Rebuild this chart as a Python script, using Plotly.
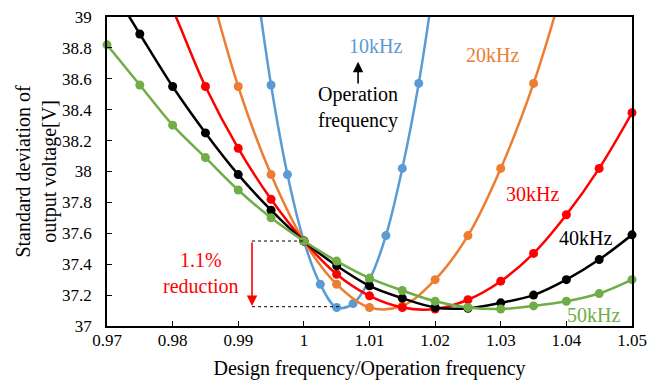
import plotly.graph_objects as go

# ---------------- data ----------------
x_10k = [0.9925, 0.995, 0.9975, 1.0, 1.0025, 1.005, 1.0075, 1.01, 1.0125, 1.015, 1.0175, 1.02]
y_10k = [39.30, 38.56, 37.98, 37.55, 37.27, 37.12, 37.145, 37.30, 37.585, 38.02, 38.57, 39.27]

x_20k = [0.985, 0.99, 0.995, 1.0, 1.005, 1.01, 1.015, 1.02, 1.025, 1.03, 1.035, 1.04]
y_20k = [39.30, 38.55, 37.98, 37.55, 37.27, 37.12, 37.13, 37.30, 37.585, 38.02, 38.57, 39.27]

x_30k = [0.975, 0.98, 0.985, 0.99, 0.995, 1.0, 1.005, 1.01, 1.015, 1.02, 1.025, 1.03, 1.035, 1.04, 1.045, 1.05]
y_30k = [39.50, 39.05, 38.55, 38.15, 37.82, 37.55, 37.335, 37.195, 37.12, 37.11, 37.17, 37.29, 37.47, 37.72, 38.02, 38.38]

x_40k = [0.97, 0.975, 0.98, 0.985, 0.99, 0.995, 1.0, 1.005, 1.01, 1.015, 1.02, 1.025, 1.03, 1.035, 1.04, 1.045, 1.05]
y_40k = [39.24, 38.89, 38.55, 38.25, 37.98, 37.75, 37.55, 37.39, 37.26, 37.18, 37.12, 37.115, 37.15, 37.20, 37.30, 37.43, 37.59]

x_50k = [0.97, 0.975, 0.98, 0.985, 0.99, 0.995, 1.0, 1.005, 1.01, 1.015, 1.02, 1.025, 1.03, 1.035, 1.04, 1.045, 1.05]
y_50k = [38.82, 38.56, 38.30, 38.09, 37.88, 37.70, 37.55, 37.42, 37.31, 37.23, 37.16, 37.12, 37.11, 37.13, 37.16, 37.21, 37.30]

series_names = ["10kHz", "20kHz", "30kHz", "40kHz", "50kHz"]
series_colors = ["#5B9BD5", "#ED7D31", "#FF0000", "#000000", "#70AD47"]

x_tickvals = [0.97, 0.98, 0.99, 1.0, 1.01, 1.02, 1.03, 1.04, 1.05]
x_ticktext = ["0.97", "0.98", "0.99", "1", "1.01", "1.02", "1.03", "1.04", "1.05"]
y_tickvals = [37, 37.2, 37.4, 37.6, 37.8, 38, 38.2, 38.4, 38.6, 38.8, 39]
y_ticktext = ["37", "37.2", "37.4", "37.6", "37.8", "38", "38.2", "38.4", "38.6", "38.8", "39"]

Y_MIN, Y_MAX = 37, 39
FONT = "Liberation Serif"

fig = go.Figure()
all_x = [x_10k, x_20k, x_30k, x_40k, x_50k]
all_y = [y_10k, y_20k, y_30k, y_40k, y_50k]
for name, col, xs, ys in zip(series_names, series_colors, all_x, all_y):
    fig.add_trace(go.Scatter(x=xs, y=ys, mode="lines", name=name,
                             line=dict(color=col, width=2.5, shape="spline", smoothing=1),
                             showlegend=False, hoverinfo="skip"))
    mx = [a for a, b in zip(xs, ys) if Y_MIN <= b <= Y_MAX]
    my = [b for b in ys if Y_MIN <= b <= Y_MAX]
    fig.add_trace(go.Scatter(x=mx, y=my, mode="markers", name=name,
                             marker=dict(color=col, size=9),
                             cliponaxis=False, showlegend=False))

# label annotations
labels = [
    ("10kHz", 1.0109, 38.81, "#5B9BD5"),
    ("20kHz", 1.0288, 38.755, "#ED7D31"),
    ("30kHz", 1.0348, 37.855, "#FF0000"),
    ("40kHz", 1.0429, 37.572, "#000000"),
    ("50kHz", 1.0441, 37.069, "#70AD47"),
    ("Operation<br>frequency", 1.00826, 38.415, "#000000"),
    ("1.1%<br>reduction", 0.98433, 37.346, "#FF0000"),
]
for t, xx, yy, c in labels:
    fig.add_annotation(x=xx, y=yy, text=t, showarrow=False,
                       font=dict(family=FONT, size=20, color=c))

# arrows
fig.add_annotation(x=1.00826, y=38.71, ax=1.00826, ay=38.56, xref="x", yref="y",
                   axref="x", ayref="y", text="", showarrow=True,
                   arrowhead=2, arrowsize=1.3, arrowwidth=1.6, arrowcolor="#000000")
fig.add_annotation(x=0.9921, y=37.13, ax=0.9921, ay=37.55, xref="x", yref="y",
                   axref="x", ayref="y", text="", showarrow=True,
                   arrowhead=2, arrowsize=1.3, arrowwidth=1.6, arrowcolor="#FF0000")

# dotted reference lines
fig.add_shape(type="line", x0=0.9921, x1=1.0, y0=37.55, y1=37.55,
              line=dict(color="black", width=1, dash="dot"))
fig.add_shape(type="line", x0=0.9921, x1=1.0055, y0=37.125, y1=37.125,
              line=dict(color="black", width=1, dash="dot"))

fig.update_layout(
    width=664, height=389,
    margin=dict(l=107, r=32, t=8, b=63),
    paper_bgcolor="white", plot_bgcolor="white",
    font=dict(family=FONT, size=17, color="black"),
    showlegend=False,
)
fig.update_xaxes(range=[0.97, 1.05], tickvals=x_tickvals, ticktext=x_ticktext,
                 showgrid=False, zeroline=False, showline=True, linecolor="black",
                 linewidth=1.5, mirror=True, ticks="inside", ticklen=5, tickwidth=1,
                 tickcolor="black", tickfont=dict(family=FONT, size=17), ticklabelstandoff=-2,
                 title=dict(text="Design frequency/Operation frequency",
                            font=dict(family=FONT, size=20), standoff=12))
fig.update_yaxes(range=[Y_MIN, Y_MAX], tickvals=y_tickvals, ticktext=y_ticktext,
                 showgrid=False, zeroline=False, showline=True, linecolor="black",
                 linewidth=1.5, mirror=True, ticks="inside", ticklen=5, tickwidth=1,
                 tickcolor="black", tickfont=dict(family=FONT, size=17), ticklabelstandoff=10,
                 title=dict(text="Standard deviation of<br>output voltage[V]",
                            font=dict(family=FONT, size=20), standoff=0))

fig.write_html("out.html", config={"displayModeBar": False},
               post_script="document.body.style.margin='0';")
